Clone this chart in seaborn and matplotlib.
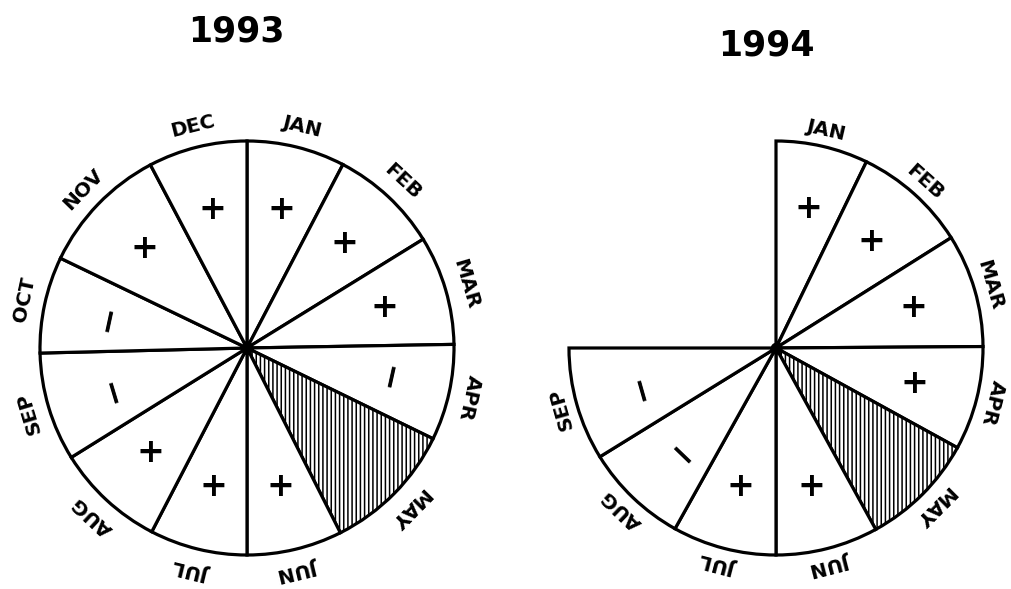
import numpy as np
import matplotlib
matplotlib.use("Agg")
import matplotlib.pyplot as plt
import seaborn as sns

# ---- data ----
month_labels = ["JAN", "FEB", "MAR", "APR", "MAY", "JUN",
                "JUL", "AUG", "SEP", "OCT", "NOV", "DEC"]
# angular width (degrees) of each month's segment, clockwise from 12 o'clock
widths_1993 = [27.6, 30.7, 30.7, 27.0, 37.2, 26.8, 27.4, 30.7, 30.5, 27.1, 36.5, 27.8]
signs_1993 = ["+", "+", "+", "−", "", "+", "+", "+", "−", "−", "+", "+"]
widths_1994 = [25.9, 31.9, 31.8, 29.2, 32.4, 28.8, 29.2, 29.1, 31.7]
signs_1994 = ["+", "+", "+", "+", "", "+", "+", "−", "−"]
hatched_month = "MAY"
years = ["1993", "1994"]

W, H = 1011, 589
sns.set_theme(style="white")
plt.rcParams["font.family"] = ["DejaVu Sans"]
plt.rcParams["hatch.linewidth"] = 1.1

fig = plt.figure(figsize=(W / 100, H / 100), dpi=100)
ax = fig.add_axes([0, 0, 1, 1])

panels = [
    dict(year=years[0], widths=widths_1993, signs=signs_1993, center=(247, 348), r=207,
         lab_off=21, title=(236, 31)),
    dict(year=years[1], widths=widths_1994, signs=signs_1994, center=(776, 348), r=207,
         lab_off=16, title=(766, 45)),
]

for p in panels:
    widths = list(p["widths"])
    n = len(widths)
    gap = 360 - sum(widths)
    vals = widths + ([gap] if gap > 0.5 else [])
    cx, cy = p["center"][0], H - p["center"][1]
    r = p["r"]
    wedges, _ = ax.pie(vals, startangle=90, counterclock=False, center=(cx, cy), radius=r,
                       wedgeprops=dict(facecolor="white", edgecolor="black", linewidth=2.3))
    if len(vals) > n:
        wedges[-1].set_visible(False)
    labels = month_labels[:n]
    if hatched_month in labels:
        w = wedges[labels.index(hatched_month)]
        w.set_hatch("||||")
    starts = np.concatenate([[0], np.cumsum(widths)[:-1]])
    mids = starts + np.array(widths) / 2
    for lab, sign, th in zip(labels, p["signs"], mids):
        t = np.deg2rad(th)
        # month label, tangential, top outward
        R = r + p["lab_off"]
        ax.text(cx + R * np.sin(t), cy + R * np.cos(t), lab, rotation=-th,
                rotation_mode="anchor", ha="center", va="center",
                fontsize=14.5, fontweight="bold", color="black")
        if sign:
            rs = 0.69 * r
            rot = -th if sign == "−" else 0
            ax.text(cx + rs * np.sin(t), cy + rs * np.cos(t), sign, rotation=rot,
                    rotation_mode="anchor", ha="center", va="center",
                    fontsize=24, fontweight="bold", color="black")
    ax.scatter([cx], [cy], s=55, color="black", zorder=5)
    ax.text(p["title"][0], H - p["title"][1], p["year"], ha="center", va="center",
            fontsize=25, fontweight="bold", color="black")

ax.set_xlim(0, W)
ax.set_ylim(0, H)
ax.set_aspect("equal")
ax.axis("off")
fig.savefig("out.png", dpi=100, facecolor="white")
